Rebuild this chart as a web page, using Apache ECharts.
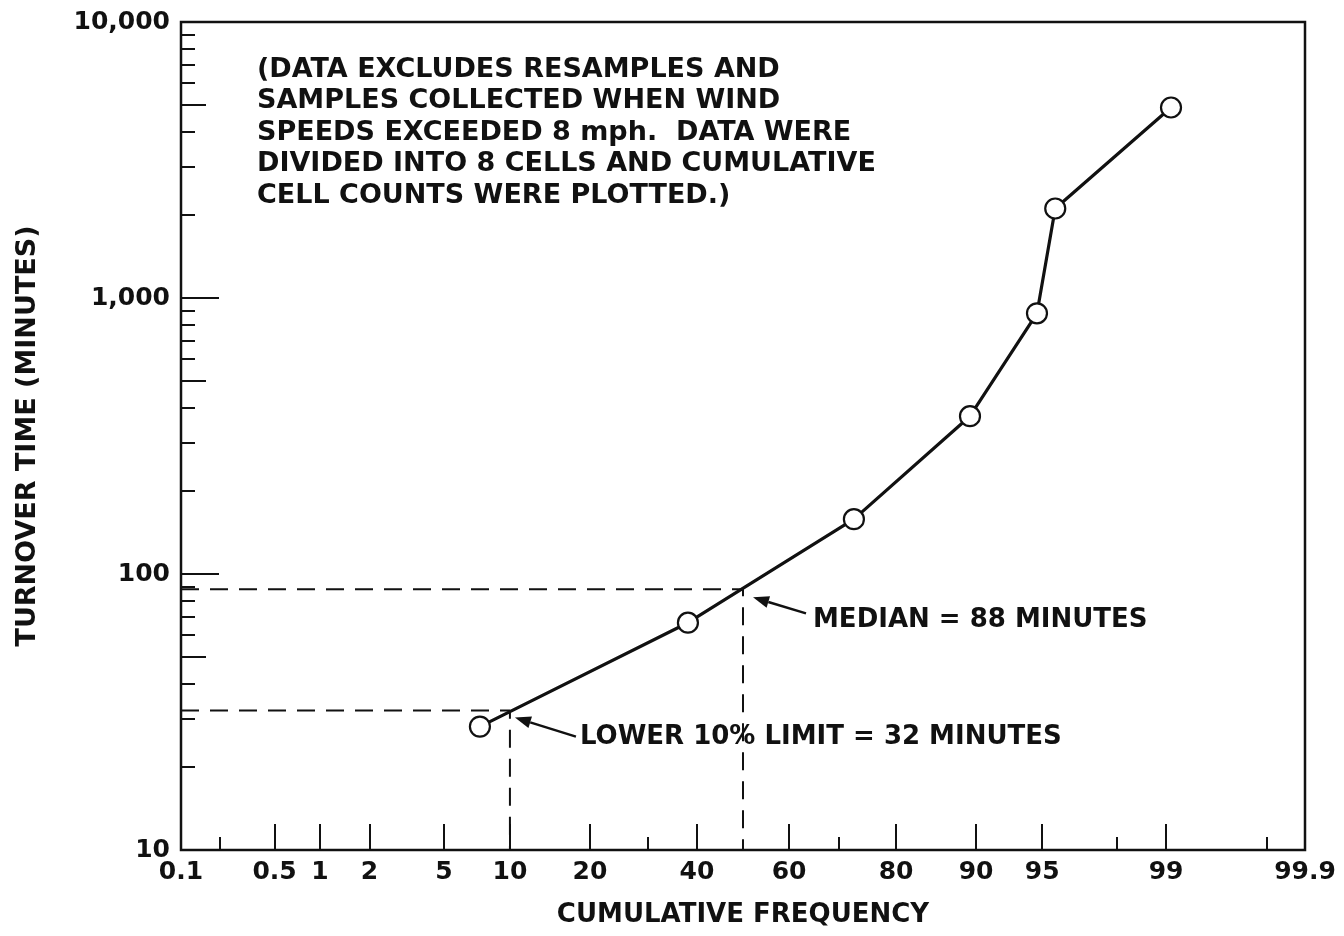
<!DOCTYPE html>
<html>
<head>
<meta charset="utf-8">
<script src="https://cdn.jsdelivr.net/npm/echarts@6/dist/echarts.min.js"></script>
<style>
html, body { margin: 0; padding: 0; background: #fff; }
#main { width: 1344px; height: 936px; }
</style>
</head>
<body>
<div id="main"></div>
<script>
// cumulative frequency (%) and turnover time (minutes) of the plotted cells
var freqPct = [7.4, 38.1, 72.9, 89.4, 94.7, 95.7, 99.07];
var turnoverMin = [28, 66.6, 158, 373, 880, 2110, 4900];

// probability axis ticks
var xLabelPct = [0.1, 0.5, 1, 2, 5, 10, 20, 40, 60, 80, 90, 95, 99, 99.9];
var xMajorPct = [0.5, 1, 2, 5, 10, 20, 40, 60, 80, 90, 95, 99];
var xMinorPct = [0.2, 30, 70, 98, 99.8];

// log axis ticks
var yLabelVals = [10, 100, 1000, 10000];
var yMidVals = [50, 500, 5000];
var yMinorVals = [20, 30, 40, 60, 70, 80, 90, 200, 300, 400, 600, 700, 800, 900, 2000, 3000, 4000, 6000, 7000, 8000, 9000];

// reference readings: lower 10% limit and median
var refPct = [10, 50];
var refMin = [32, 88];

var noteText = '(DATA EXCLUDES RESAMPLES AND\nSAMPLES COLLECTED WHEN WIND\nSPEEDS EXCEEDED 8 mph.  DATA WERE\nDIVIDED INTO 8 CELLS AND CUMULATIVE\nCELL COUNTS WERE PLOTTED.)';
var refText = ['LOWER 10% LIMIT = 32 MINUTES', 'MEDIAN = 88 MINUTES'];

// inverse normal cdf (Acklam), used to place percentages on the probability scale
function probit(p) {
  var a = [-3.969683028665376e+01, 2.209460984245205e+02, -2.759285104469687e+02, 1.383577518672690e+02, -3.066479806614716e+01, 2.506628277459239e+00];
  var b = [-5.447609879822406e+01, 1.615858368580409e+02, -1.556989798598866e+02, 6.680131188771972e+01, -1.328068155288572e+01];
  var c = [-7.784894002430293e-03, -3.223964580411365e-01, -2.400758277161838e+00, -2.549671010249902e+00, 4.374664141464968e+00, 2.938163982698783e+00];
  var d = [7.784695709041462e-03, 3.224671290700398e-01, 2.445134137142996e+00, 3.754408661907416e+00];
  var q, r;
  if (p < 0.02425) {
    q = Math.sqrt(-2 * Math.log(p));
    return (((((c[0]*q+c[1])*q+c[2])*q+c[3])*q+c[4])*q+c[5]) / ((((d[0]*q+d[1])*q+d[2])*q+d[3])*q+1);
  }
  if (p > 1 - 0.02425) {
    q = Math.sqrt(-2 * Math.log(1 - p));
    return -(((((c[0]*q+c[1])*q+c[2])*q+c[3])*q+c[4])*q+c[5]) / ((((d[0]*q+d[1])*q+d[2])*q+d[3])*q+1);
  }
  q = p - 0.5; r = q * q;
  return (((((a[0]*r+a[1])*r+a[2])*r+a[3])*r+a[4])*r+a[5])*q / (((((b[0]*r+b[1])*r+b[2])*r+b[3])*r+b[4])*r+1);
}
function z(pct) { return probit(pct / 100); }

var xMin = z(0.1), xMax = z(99.9);
var fontFam = 'DejaVu Sans';

function xLabel(v) {
  for (var i = 0; i < xLabelPct.length; i++) {
    if (Math.abs(z(xLabelPct[i]) - v) < 1e-4) return String(xLabelPct[i]);
  }
  return '';
}

var points = freqPct.map(function (p, i) { return [z(p), turnoverMin[i]]; });
var refLines = refPct.map(function (p, i) {
  return [[xMin, refMin[i]], [z(p), refMin[i]], [z(p), 10]];
});

var myChart = echarts.init(document.getElementById('main'));

var xBase = {
  type: 'value', min: xMin, max: xMax, position: 'bottom',
  splitLine: { show: false },
  axisLine: { show: false, onZero: false },
  axisLabel: { show: false },
  axisTick: { show: false }
};
var yBase = {
  type: 'log', logBase: 10, min: 10, max: 10000, position: 'left',
  splitLine: { show: false },
  axisLine: { show: false, onZero: false },
  axisLabel: { show: false },
  axisTick: { show: false }
};

var option = {
  animation: false,
  backgroundColor: '#fff',
  grid: {
    left: 181, right: 39, top: 22, bottom: 86,
    show: true, borderColor: '#111', borderWidth: 2.5, backgroundColor: 'transparent'
  },
  xAxis: [
    Object.assign({}, xBase, {
      name: 'CUMULATIVE FREQUENCY',
      nameLocation: 'middle',
      nameGap: 52,
      nameTextStyle: { fontFamily: fontFam, fontWeight: 'bold', fontSize: 26, color: '#111' },
      axisTick: { show: true, inside: true, length: 26, customValues: xMajorPct.map(z), lineStyle: { color: '#111', width: 2 } },
      axisLabel: {
        show: true, customValues: xLabelPct.map(z), margin: 10,
        fontFamily: fontFam, fontWeight: 'bold', fontSize: 25, color: '#111',
        showMinLabel: true, showMaxLabel: true, hideOverlap: false,
        formatter: xLabel
      }
    }),
    Object.assign({}, xBase, {
      axisTick: { show: true, inside: true, length: 13, customValues: xMinorPct.map(z), lineStyle: { color: '#111', width: 2 } }
    })
  ],
  yAxis: [
    Object.assign({}, yBase, {
      name: 'TURNOVER TIME (MINUTES)',
      nameLocation: 'middle',
      nameGap: 140,
      nameRotate: 90,
      nameTextStyle: { fontFamily: fontFam, fontWeight: 'bold', fontSize: 27, color: '#111' },
      axisTick: { show: true, inside: true, length: 38, customValues: yLabelVals, lineStyle: { color: '#111', width: 2 } },
      axisLabel: {
        show: true, customValues: yLabelVals, margin: 11,
        fontFamily: fontFam, fontWeight: 'bold', fontSize: 25, color: '#111',
        showMinLabel: true, showMaxLabel: true,
        formatter: function (v) { return Math.round(v).toLocaleString('en-US'); }
      }
    }),
    Object.assign({}, yBase, {
      axisTick: { show: true, inside: true, length: 25, customValues: yMidVals, lineStyle: { color: '#111', width: 2 } }
    }),
    Object.assign({}, yBase, {
      axisTick: { show: true, inside: true, length: 14, customValues: yMinorVals, lineStyle: { color: '#111', width: 2 } }
    })
  ],
  series: refLines.map(function (d) {
    return {
      type: 'line', data: d, symbol: 'none', silent: true, z: 1,
      lineStyle: { color: '#111', width: 2, type: [18, 11] }
    };
  }).concat([{
    type: 'line',
    data: points,
    symbol: 'circle',
    symbolSize: 20,
    z: 3,
    itemStyle: { color: '#fff', borderColor: '#111', borderWidth: 2.2 },
    lineStyle: { color: '#111', width: 3.2 }
  }])
};

myChart.setOption(option);

// annotations tied to the reference points
function arrow(tail, tip) {
  var dx = tip[0] - tail[0], dy = tip[1] - tail[1];
  var len = Math.sqrt(dx * dx + dy * dy), ux = dx / len, uy = dy / len;
  var hl = 16, hw = 6;
  var bx = tip[0] - ux * hl, by = tip[1] - uy * hl;
  return [
    { type: 'line', shape: { x1: tail[0], y1: tail[1], x2: bx, y2: by }, style: { stroke: '#111', lineWidth: 2.5 } },
    { type: 'polygon', shape: { points: [tip, [bx - uy * hw, by + ux * hw], [bx + uy * hw, by - ux * hw]] }, style: { fill: '#111' } }
  ];
}

var graphics = [{
  type: 'text', left: 257, top: 54,
  style: { text: noteText, fontFamily: fontFam, fontWeight: 'bold', fontSize: 27, lineHeight: 31.5, fill: '#111' }
}];
var tipOff = [[5, 7], [10, 8]];
var tailOff = [[66, 26], [63, 24]];
var textOff = [[70, 27], [70, 31]];
refPct.forEach(function (p, i) {
  var px = myChart.convertToPixel({ xAxisIndex: 0, yAxisIndex: 0 }, [z(p), refMin[i]]);
  graphics = graphics.concat(arrow(
    [px[0] + tailOff[i][0], px[1] + tailOff[i][1]],
    [px[0] + tipOff[i][0], px[1] + tipOff[i][1]]
  ));
  graphics.push({
    type: 'text', x: px[0] + textOff[i][0], y: px[1] + textOff[i][1],
    style: { text: refText[i], fontFamily: fontFam, fontWeight: 'bold', fontSize: 26, fill: '#111', verticalAlign: 'middle' }
  });
});
myChart.setOption({ graphic: graphics });
</script>
</body>
</html>
